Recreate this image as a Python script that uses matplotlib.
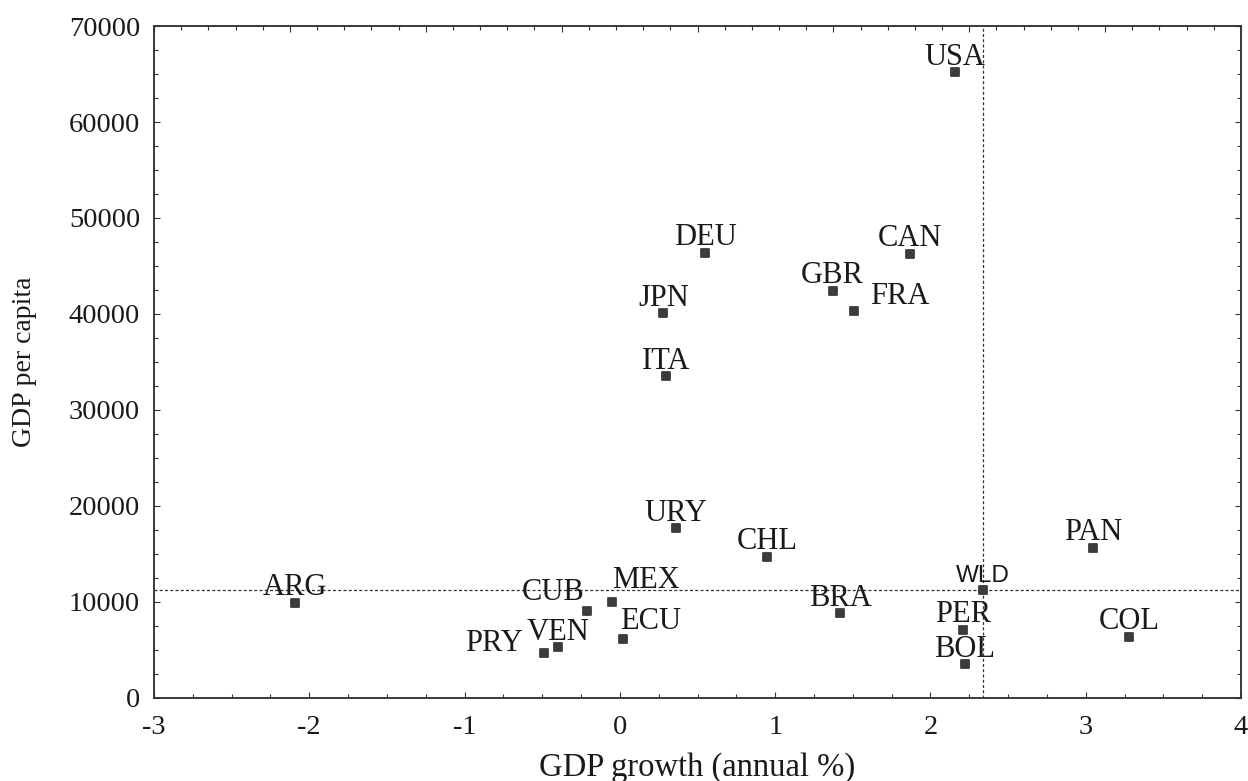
import numpy as np
import matplotlib
matplotlib.use("Agg")
import matplotlib.pyplot as plt
from matplotlib.markers import MarkerStyle
from matplotlib.ticker import MultipleLocator, AutoMinorLocator, NullFormatter

plt.rcParams["axes.unicode_minus"] = False

# GDP growth vs GDP per capita by country
codes = ["USA", "DEU", "CAN", "GBR", "FRA", "JPN", "ITA", "URY", "CHL", "PAN",
         "ARG", "CUB", "MEX", "ECU", "VEN", "PRY", "BRA", "WLD", "PER", "BOL", "COL"]
growth = [2.16, 0.55, 1.87, 1.37, 1.51, 0.28, 0.30, 0.36, 0.95, 3.05,
          -2.09, -0.21, -0.05, 0.02, -0.40, -0.49, 1.42, 2.34, 2.21, 2.22, 3.28]
gdp_pc = [65200, 46400, 46300, 42400, 40300, 40100, 33500, 17700, 14700, 15650,
          9900, 9100, 10000, 6150, 5300, 4650, 8850, 11250, 7100, 3500, 6400]

# label placement: (dx, dy) in points, horizontal alignment
default_place = ((0, 5.4), "center")
label_place = {
    "FRA": ((33, 5.4), "center"),
    "MEX": ((0, 10), "left"),
    "CUB": ((-2, 8), "right"),
    "ECU": ((-2, 7), "left"),
    "PRY": ((-15, 2), "right"),
}

SERIF = "Liberation Serif"
INK = "#1a1a1a"
MARK = "#3c3c3c"

fig = plt.figure(figsize=(12.48, 7.81), dpi=100, facecolor="white")
ax = fig.add_axes([0.1234, 0.1063, 0.871, 0.8604])

ax.plot(growth, gdp_pc, linestyle="none",
        marker=MarkerStyle("s", joinstyle="round"), markersize=5.8,
        color=MARK, markeredgecolor=MARK, markeredgewidth=1.3, zorder=3)

# reference lines through the world value
wi = codes.index("WLD")
ax.axvline(growth[wi], color="#333333", lw=0.9, dashes=(2.4, 1.8), zorder=2)
ax.axhline(gdp_pc[wi], color="#333333", lw=0.9, dashes=(2.4, 1.8), zorder=2)

for code, gx, gy in zip(codes, growth, gdp_pc):
    (dx, dy), ha = label_place.get(code, default_place)
    if code == "WLD":
        fam, size = "Liberation Sans", 17.5
    else:
        fam, size = SERIF, 22
    ax.annotate(code, (gx, gy), xytext=(dx, dy), textcoords="offset points",
                ha=ha, va="baseline", family=fam, fontsize=size, color=INK,
                zorder=4)

ax.set_xlim(-3, 4)
ax.set_ylim(0, 70000)
ax.xaxis.set_major_locator(MultipleLocator(1))
ax.xaxis.set_minor_locator(MultipleLocator(0.25))
ax.yaxis.set_major_locator(MultipleLocator(10000))
ax.yaxis.set_minor_locator(MultipleLocator(2500))

ax.tick_params(which="both", direction="in", top=False, right=True,
               color="#333333", width=0.8)
ax.tick_params(which="major", length=4.5)
ax.tick_params(which="minor", length=3)
ax.tick_params(axis="y", which="major", pad=10)
ax.tick_params(axis="x", which="major", pad=12)
for lab in ax.get_xticklabels() + ax.get_yticklabels():
    lab.set_family(SERIF)
    lab.set_fontsize(20.5)
    lab.set_color(INK)

# top axis carries its own unlabeled tick spacing
top = ax.twiny()
top.set_xlim(-3, 4)
top.set_xticks(np.linspace(-3, 4, 9))
top.xaxis.set_minor_locator(AutoMinorLocator(5))
top.xaxis.set_major_formatter(NullFormatter())
top.tick_params(which="both", direction="in", color="#333333", width=0.8)
top.tick_params(which="major", length=4.5)
top.tick_params(which="minor", length=3)

for a in (ax, top):
    for sp in a.spines.values():
        sp.set_color("#333333")
        sp.set_linewidth(1.1)

ax.set_xlabel("GDP growth (annual %)", family=SERIF, fontsize=23.5, color=INK)
ax.set_ylabel("GDP per capita", family=SERIF, fontsize=20, color=INK)
ax.xaxis.set_label_coords(0.5, -0.08)
ax.yaxis.set_label_coords(-0.108, 0.5)

fig.savefig("out.png", dpi=100, facecolor="white")
